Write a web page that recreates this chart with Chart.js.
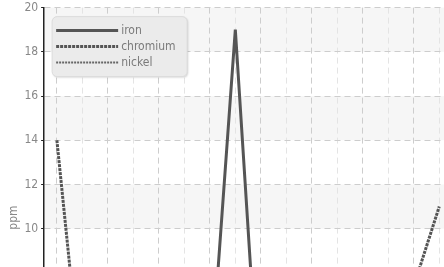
<!DOCTYPE html>
<html>
<head>
<meta charset="utf-8">
<script src="https://cdn.jsdelivr.net/npm/chart.js"></script>
<style>
  html, body { margin: 0; padding: 0; background: #fff; overflow: hidden; }
  canvas { display: block; margin-top: -2px; }
</style>
</head>
<body>
<canvas id="ppmChart" width="456" height="453"></canvas>
<script>
// sample numbers along the x axis
var samples = ['1', '2', '3', '4', '5', '6', '7', '8', '9', '10', '11', '12', '13', '14', '15', '16'];

// concentrations in ppm (only the upper part of the chart is on screen)
var iron     = [4.5, 5.2, 3.8, 4.1, 6.0, 5.5, 3.0, 19.0, 1.0, 2.2, 3.4, 2.8, 4.6, 3.9, 5.1, 4.4];
var chromium = [14.0, 2.7, 3.5, 4.2, 2.9, 3.3, 5.0, 4.1, 3.6, 2.7, 3.9, 4.4, 3.1, 5.2, 7.4, 11.0];
var nickel   = [3.1, 1.9, 2.4, 2.0, 3.3, 2.6, 1.8, 2.9, 2.2, 3.5, 2.7, 1.6, 2.3, 3.0, 2.1, 2.5];

var yTicks = [2, 4, 6, 8, 10, 12, 14, 16, 18, 20];

Chart.defaults.font.family = "'DejaVu Sans Condensed', 'DejaVu Sans', sans-serif";
Chart.defaults.font.size = 12;
Chart.defaults.color = '#888';

// light grey bands between every other pair of ticks
var bands = {
  id: 'bands',
  beforeDraw: function(chart) {
    var ctx = chart.ctx, a = chart.chartArea, y = chart.scales.y;
    ctx.save();
    ctx.fillStyle = '#f6f6f6';
    for (var i = yTicks.length - 1; i > 0; i -= 2) {
      var top = y.getPixelForValue(yTicks[i]);
      var bottom = y.getPixelForValue(yTicks[i - 1]);
      ctx.fillRect(a.left, top, a.right - a.left, bottom - top);
    }
    ctx.restore();
  }
};

// legend in a rounded grey box, top left of the plot
var boxLegend = {
  id: 'boxLegend',
  afterDatasetsDraw: function(chart) {
    var ctx = chart.ctx, a = chart.chartArea;
    var x = a.left + 8, y = a.top + 9, w = 135, h = 60;
    ctx.save();
    ctx.shadowColor = 'rgba(0,0,0,0.18)';
    ctx.shadowOffsetX = 1;
    ctx.shadowOffsetY = 1;
    ctx.shadowBlur = 2;
    ctx.fillStyle = '#ebebeb';
    ctx.beginPath();
    ctx.roundRect(x, y, w, h, 5);
    ctx.fill();
    ctx.shadowColor = 'transparent';
    ctx.strokeStyle = '#dcdcdc';
    ctx.lineWidth = 1;
    ctx.stroke();

    ctx.font = "12px 'DejaVu Sans Condensed', 'DejaVu Sans', sans-serif";
    ctx.textBaseline = 'middle';
    chart.data.datasets.forEach(function(ds, i) {
      var ly = y + 14 + i * 16;
      ctx.lineWidth = ds.borderWidth;
      ctx.strokeStyle = ds.borderColor;
      ctx.setLineDash(ds.borderDash || []);
      ctx.beginPath();
      ctx.moveTo(x + 4, ly);
      ctx.lineTo(x + 66, ly);
      ctx.stroke();
      ctx.setLineDash([]);
      ctx.fillStyle = '#7a7a7a';
      ctx.fillText(ds.label, x + 69, ly);
    });
    ctx.restore();
  }
};

var ctx = document.getElementById('ppmChart');

var chart = new Chart(ctx, {
  type: 'line',
  data: {
    labels: samples,
    datasets: [
      { label: 'iron', data: iron, borderColor: '#555', borderWidth: 3 },
      { label: 'chromium', data: chromium, borderColor: '#555', borderWidth: 3, borderDash: [3, 1] },
      { label: 'nickel', data: nickel, borderColor: '#666', borderWidth: 2, borderDash: [2, 1] }
    ]
  },
  options: {
    responsive: false,
    animation: false,
    layout: { padding: { left: 0, right: 4 } },
    elements: {
      point: { radius: 0 },
      line: { tension: 0, fill: false }
    },
    plugins: {
      legend: { display: false },
      tooltip: { enabled: false }
    },
    scales: {
      x: {
        offset: true,
        grid: {
          offset: false,
          color: function(c) { return c.index % 2 ? '#e4e4e4' : '#cdcdcd'; },
          tickLength: 3
        },
        border: { display: true, color: '#222', dash: [6, 4] }
      },
      y: {
        min: 1,
        max: 20,
        afterBuildTicks: function(axis) {
          axis.ticks = yTicks.map(function(v) { return { value: v }; });
        },
        grid: { color: '#cdcdcd', tickLength: 3, tickColor: '#222' },
        border: { display: true, color: '#222', width: 1.5, dash: [6, 4] },
        ticks: { padding: 3, font: { lineHeight: 1.1 } },
        title: { display: true, text: 'ppm', color: '#888', padding: { top: 7, bottom: 0 } }
      }
    }
  },
  plugins: [bands, boxLegend]
});
</script>
</body>
</html>
